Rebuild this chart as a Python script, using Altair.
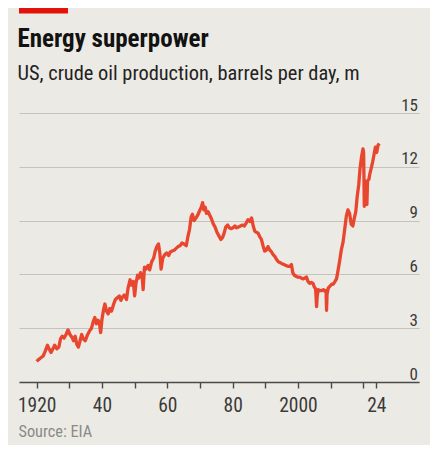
import altair as alt
import pandas as pd

# ---- data (decimal year, million barrels per day) ----
years = [
    1920.0, 1920.6, 1921.3, 1922.0, 1922.7, 1923.3, 1923.8, 1924.4, 1925.0, 1925.5,
    1926.2, 1926.8, 1927.3, 1927.8, 1928.4, 1929.0, 1929.6, 1930.2, 1930.8, 1931.3,
    1931.8, 1932.3, 1932.8, 1933.3, 1933.8, 1934.3, 1934.9, 1935.5, 1936.2, 1936.8,
    1937.3, 1937.8, 1938.3, 1938.8, 1939.2, 1939.6, 1940.0, 1940.5, 1940.9, 1941.4,
    1941.9, 1942.4, 1942.9, 1943.5, 1944.1, 1944.7, 1945.3, 1945.8, 1946.3, 1946.8,
    1947.5, 1948.0, 1948.6, 1949.1, 1949.6, 1950.0, 1950.4, 1950.9, 1951.3, 1951.8,
    1952.3, 1952.6, 1953.0, 1953.5, 1954.1, 1954.6, 1955.2, 1955.8, 1956.3, 1956.8,
    1957.3, 1957.7, 1958.1, 1958.6, 1959.2, 1959.8, 1960.4, 1960.9, 1961.5, 1962.1,
    1962.7, 1963.3, 1963.9, 1964.5, 1965.1, 1965.8, 1966.3, 1966.8, 1967.3, 1967.7,
    1968.2, 1968.8, 1969.3, 1969.9, 1970.4, 1970.8, 1971.2, 1971.6, 1972.0, 1972.5,
    1973.0, 1973.5, 1974.1, 1974.6, 1975.2, 1975.8, 1976.4, 1976.9, 1977.4, 1977.9,
    1978.5, 1979.0, 1979.6, 1980.1, 1980.7, 1981.2, 1981.8, 1982.4, 1983.0, 1983.6,
    1984.1, 1984.7, 1985.3, 1985.8, 1986.3, 1986.8, 1987.3, 1987.8, 1988.3, 1988.8,
    1989.3, 1989.8, 1990.3, 1990.8, 1991.4, 1991.9, 1992.4, 1992.9, 1993.4, 1994.0,
    1994.6, 1995.1, 1995.7, 1996.3, 1996.9, 1997.5, 1998.0, 1998.4, 1998.9, 1999.4,
    1999.9, 2000.5, 2001.0, 2001.6, 2002.1, 2002.6, 2003.1, 2003.6, 2004.1, 2004.6,
    2005.0, 2005.4, 2005.7, 2005.9, 2006.2, 2006.8, 2007.3, 2007.8, 2008.3, 2008.6,
    2008.75, 2008.9, 2009.3, 2009.8, 2010.3, 2010.8, 2011.3, 2011.8, 2012.3, 2012.8,
    2013.3, 2013.8, 2014.3, 2014.8, 2015.3, 2015.8, 2016.3, 2016.8, 2017.2, 2017.7,
    2018.1, 2018.6, 2019.0, 2019.5, 2019.9, 2020.1, 2020.3, 2020.5, 2020.8, 2021.0,
    2021.1, 2021.3, 2021.7, 2022.0, 2022.4, 2022.9, 2023.3, 2023.7, 2024.1, 2024.5,
    2024.9,
]
production = [
    1.15, 1.25, 1.35, 1.45, 1.75, 2.05, 1.85, 1.65, 1.85, 2.05,
    1.85, 1.95, 2.40, 2.55, 2.45, 2.65, 2.90, 2.65, 2.50, 2.30,
    2.55, 2.10, 1.95, 2.30, 2.65, 2.40, 2.30, 2.60, 2.85, 3.00,
    3.35, 3.60, 3.25, 3.45, 3.30, 2.75, 3.50, 4.05, 4.35, 3.95,
    3.80, 4.10, 3.95, 4.30, 4.60, 4.70, 4.80, 4.55, 4.75, 4.85,
    4.60, 5.25, 5.70, 5.40, 5.60, 4.80, 5.50, 5.95, 5.80, 6.10,
    5.90, 5.15, 6.40, 6.30, 6.50, 6.25, 6.70, 6.90, 7.30, 7.55,
    7.70, 7.20, 6.30, 6.90, 7.10, 7.20, 7.05, 7.25, 7.30, 7.35,
    7.45, 7.55, 7.60, 7.75, 7.70, 7.60, 8.10, 8.50, 9.20, 9.35,
    9.00, 9.15, 9.30, 9.55, 9.75, 10.00, 9.60, 9.75, 9.40, 9.50,
    9.30, 9.10, 8.80, 8.65, 8.35, 8.15, 7.95, 8.05, 8.30, 8.65,
    8.75, 8.60, 8.55, 8.60, 8.70, 8.60, 8.65, 8.70, 8.75, 8.70,
    8.85, 9.05, 8.95, 9.15, 8.70, 8.40, 8.35, 8.30, 8.10, 7.95,
    7.60, 7.30, 7.35, 7.55, 7.35, 7.25, 7.10, 7.00, 6.85, 6.70,
    6.65, 6.60, 6.55, 6.50, 6.45, 6.45, 6.55, 6.10, 5.95, 5.90,
    5.85, 5.85, 5.80, 5.75, 5.80, 5.85, 5.60, 5.50, 5.55, 5.50,
    5.30, 5.20, 4.20, 4.80, 5.15, 5.10, 5.10, 5.15, 5.05, 5.10,
    4.00, 4.90, 5.25, 5.35, 5.45, 5.45, 5.60, 5.75, 6.25, 6.80,
    7.40, 7.80, 8.50, 9.25, 9.60, 9.40, 8.80, 8.70, 9.10, 9.50,
    10.30, 11.00, 11.90, 12.60, 13.00, 12.80, 9.80, 10.90, 11.20, 11.00,
    9.90, 11.20, 11.30, 11.60, 11.90, 12.30, 12.70, 13.10, 12.80, 13.20,
    13.30,
]

tick_years = [1920, 1930, 1940, 1950, 1960, 1970, 1980, 1990, 2000, 2010, 2020, 2024]
tick_labels = ["1920", "", "40", "", "60", "", "80", "", "2000", "", "", "24"]
y_ticks = [0, 3, 6, 9, 12, 15]

title_text = "Energy superpower"
subtitle_text = "US, crude oil production, barrels per day, m"
source_text = "Source: EIA"

df = pd.DataFrame({"year": years, "mbd": production})

FONT = "Liberation Sans Narrow, Arial Narrow, Roboto Condensed, Roboto, sans-serif"
BG = "#ECEAE4"
LINE = "#E8462F"

label_expr = "".join(
    f"datum.value == {y} ? '{l}' : " for y, l in zip(tick_years, tick_labels)
) + "''"

W, H = 400, 269

line = alt.Chart(df).mark_line(color=LINE, strokeWidth=3.3, strokeJoin="round").encode(
    x=alt.X(
        "year:Q",
        scale=alt.Scale(domain=[1914.6, 2037.05], nice=False, zero=False),
        axis=alt.Axis(
            values=tick_years,
            labelExpr=label_expr,
            title=None,
            grid=False,
            domainColor="#4a4a4a",
            domainWidth=1.6,
            tickColor="#4a4a4a",
            tickWidth=1.4,
            tickSize=6,
            labelFont=FONT,
            labelFontSize=19.5,
            labelColor="#3a3a3a",
            labelBaseline="alphabetic",
            labelPadding=23.5,
            labelOverlap=False,
            labelFlush=False,
        ),
    ),
    y=alt.Y(
        "mbd:Q",
        scale=alt.Scale(domain=[0, 15], nice=False),
        axis=alt.Axis(
            orient="right",
            values=y_ticks,
            title=None,
            domain=False,
            ticks=False,
            grid=True,
            gridColor="#C4C2BC",
            gridWidth=1,
            labelFont=FONT,
            labelFontSize=17,
            labelColor="#3a3a3a",
            labelAlign="right",
            labelBaseline="alphabetic",
            labelPadding=-1.5,
            labelOffset=-3,
        ),
    ),
)

one = pd.DataFrame({"t": [0]})

red_bar = alt.Chart(one).mark_rect(color="#E3120B").encode(
    x=alt.value(0), x2=alt.value(49), y=alt.value(-105), y2=alt.value(-99.5)
)

title = alt.Chart(pd.DataFrame({"t": [title_text]})).mark_text(
    font=FONT, fontSize=25, fontWeight="bold", color="#121212",
    align="left", baseline="alphabetic",
).encode(text="t:N", x=alt.value(-1.5), y=alt.value(-66))

subtitle = alt.Chart(pd.DataFrame({"t": [subtitle_text]})).mark_text(
    font=FONT, fontSize=20.4, color="#222222",
    align="left", baseline="alphabetic",
).encode(text="t:N", x=alt.value(-1.5), y=alt.value(-33))

source = alt.Chart(pd.DataFrame({"t": [source_text]})).mark_text(
    font=FONT, fontSize=16.3, color="#8A8A88",
    align="left", baseline="alphabetic",
).encode(text="t:N", x=alt.value(-0.5), y=alt.value(323.7))

chart = (
    alt.layer(line, red_bar, title, subtitle, source)
    .properties(
        width=W,
        height=H,
        background=BG,
        padding={"left": 11, "top": 105, "right": 11, "bottom": 63},
        autosize=alt.AutoSizeParams(type="none"),
    )
    .configure_view(stroke=None)
)

chart.save("out.html", embed_options={"renderer": "svg", "actions": False})
